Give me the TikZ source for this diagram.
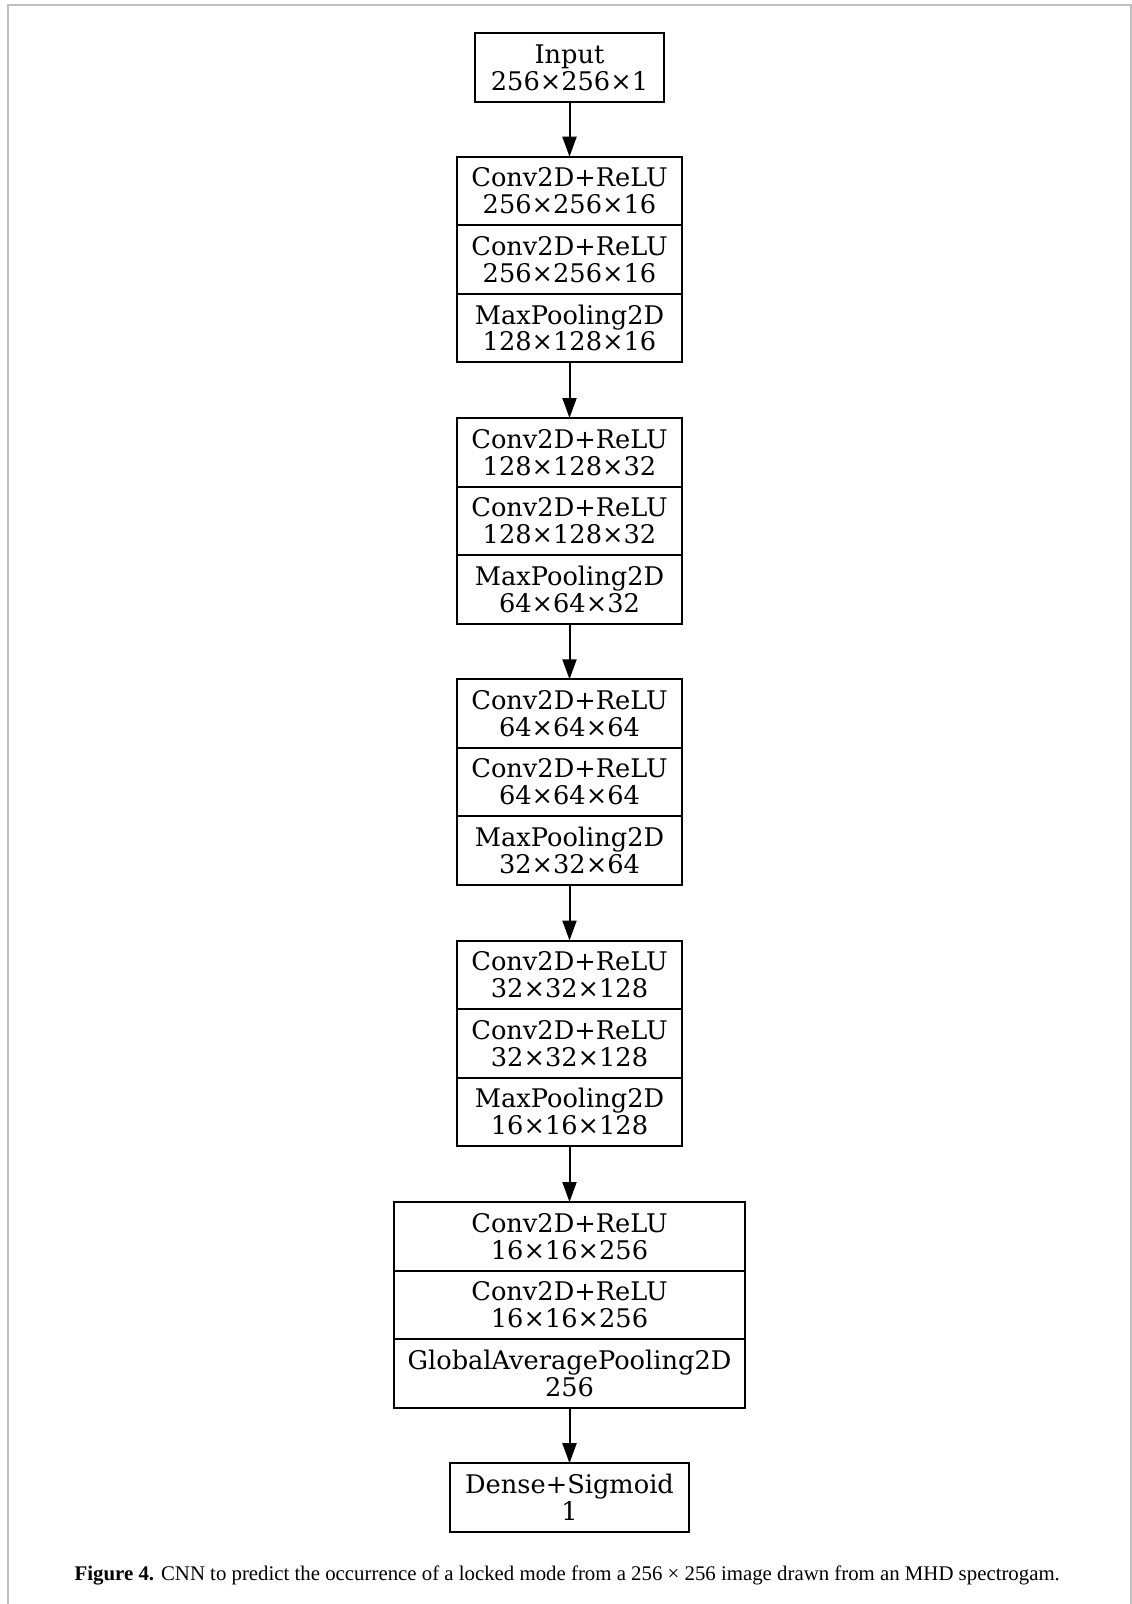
\documentclass[tikz,border=0pt]{standalone}
\usepackage{fontspec}
\setmainfont{DejaVu Serif}
\newfontfamily\captionfont{Liberation Serif}
\usepackage{tikz}
\usepackage{xcolor}
\usetikzlibrary{chains,arrows.meta}
\edef\sizecell{1.37cm}
\tikzstyle{layer}=[draw,line width=0.04cm,outer sep=0pt,inner sep=0pt,minimum height=\sizecell,align=center,font=\fontsize{14.6}{15.3}\selectfont]
\tikzstyle{flow}=[line width=0.04cm,-{Triangle[length=0.4cm,width=0.28cm]}]
\definecolor{framegrey}{RGB}{192,192,192}

\begin{document}
\begin{tikzpicture}
		\useasboundingbox (0,0) rectangle (22.64,-32.08);
		\draw[framegrey,line width=0.03cm] (0.16,-32.08) -- (0.16,-0.1) -- (22.62,-0.1) -- (22.62,-32.08);

		\node [layer, minimum width=3.78cm, anchor=north] (input) at (11.39,-0.67) {Input\\256×256×1};

		\begin{scope}[shift={(11.39,-3.134)}, start chain=1 going below,node distance=0mm]
			\node [on chain=1,layer, minimum width=4.5cm, anchor=north] (convA1) {Conv2D+ReLU\\256×256×16};
			\node [on chain=1,layer, minimum width=4.5cm] (convA2) {Conv2D+ReLU\\256×256×16};
			\node [on chain=1,layer, minimum width=4.5cm] (poolA) {MaxPooling2D\\128×128×16};
		\end{scope}
		\begin{scope}[shift={(11.39,-8.36)}, start chain=1 going below,node distance=0mm]
			\node [on chain=1,layer, minimum width=4.5cm, anchor=north] (convB1) {Conv2D+ReLU\\128×128×32};
			\node [on chain=1,layer, minimum width=4.5cm] (convB2) {Conv2D+ReLU\\128×128×32};
			\node [on chain=1,layer, minimum width=4.5cm] (poolB) {MaxPooling2D\\64×64×32};
		\end{scope}
		\begin{scope}[shift={(11.39,-13.586)}, start chain=1 going below,node distance=0mm]
			\node [on chain=1,layer, minimum width=4.5cm, anchor=north] (convC1) {Conv2D+ReLU\\64×64×64};
			\node [on chain=1,layer, minimum width=4.5cm] (convC2) {Conv2D+ReLU\\64×64×64};
			\node [on chain=1,layer, minimum width=4.5cm] (poolC) {MaxPooling2D\\32×32×64};
		\end{scope}
		\begin{scope}[shift={(11.39,-18.81)}, start chain=1 going below,node distance=0mm]
			\node [on chain=1,layer, minimum width=4.5cm, anchor=north] (convD1) {Conv2D+ReLU\\32×32×128};
			\node [on chain=1,layer, minimum width=4.5cm] (convD2) {Conv2D+ReLU\\32×32×128};
			\node [on chain=1,layer, minimum width=4.5cm] (poolD) {MaxPooling2D\\16×16×128};
		\end{scope}
		\begin{scope}[shift={(11.39,-24.04)}, start chain=1 going below,node distance=0mm]
			\node [on chain=1,layer, minimum width=7.03cm, anchor=north] (convE1) {Conv2D+ReLU\\16×16×256};
			\node [on chain=1,layer, minimum width=7.03cm] (convE2) {Conv2D+ReLU\\16×16×256};
			\node [on chain=1,layer, minimum width=7.03cm] (poolE) {GlobalAveragePooling2D\\256};
		\end{scope}

		\node [layer, minimum width=4.78cm, anchor=north] (dense) at (11.39,-29.264) {Dense+Sigmoid\\1};

		\draw[flow] (input) -- (convA1);
		\draw[flow] (poolA) -- (convB1);
		\draw[flow] (poolB) -- (convC1);
		\draw[flow] (poolC) -- (convD1);
		\draw[flow] (poolD) -- (convE1);
		\draw[flow] (poolE) -- (dense);

		\node [anchor=base west, font=\captionfont\fontsize{11.85}{14}\selectfont] (caption) at (1.37,-31.6) {\textbf{Figure 4.} CNN to predict the occurrence of a locked mode from a 256 × 256 image drawn from an MHD spectrogam.};
	\end{tikzpicture}
\end{document}
